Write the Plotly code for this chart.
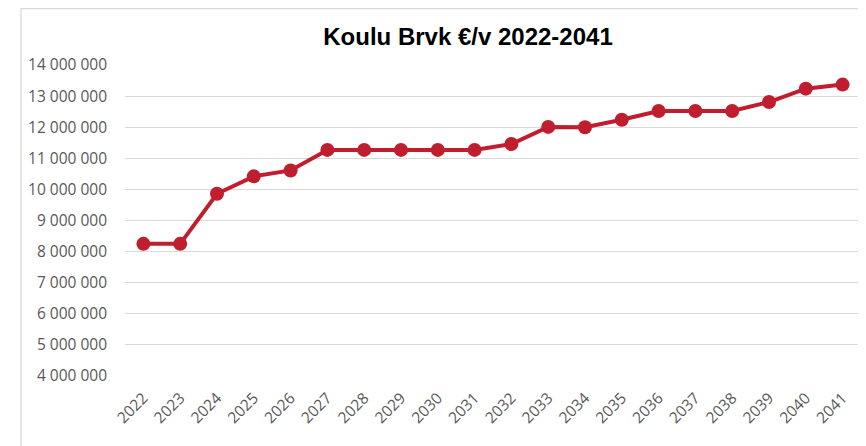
import plotly.graph_objects as go

years = [str(y) for y in range(2022, 2042)]
values = [8250000, 8250000, 9860000, 10420000, 10610000, 11270000, 11270000, 11270000,
          11270000, 11270000, 11460000, 12010000, 12000000, 12240000, 12520000, 12520000,
          12520000, 12810000, 13240000, 13370000]
title_text = "Koulu Brvk €/v 2022-2041"

OFF = 8  # default page body margin
W, H = 866 - OFF, 446 - OFF
L, T = 125 - OFF, 65 - OFF
R = W - (861 - OFF)
B = H - (376 - OFF)
pw, ph = W - L - R, H - T - B

fig = go.Figure()
fig.add_trace(go.Scatter(
    x=years, y=values, mode="lines+markers",
    line=dict(color="#C01E2E", width=4),
    marker=dict(color="#C01E2E", size=14),
    showlegend=False,
))

fig.update_layout(
    width=W, height=H,
    margin=dict(l=L, r=R, t=T, b=B, pad=0, autoexpand=False),
    plot_bgcolor="white", paper_bgcolor="white",
    separators=", ",
    title=dict(
        text="<b>" + title_text + "</b>",
        x=(468 - OFF) / W, xanchor="center",
        y=1 - (37 - OFF) / H, yanchor="middle",
        font=dict(family="Liberation Sans", size=24, color="#000000"),
    ),
    xaxis=dict(
        type="category", range=[-0.5, len(years) - 0.5],
        tickangle=-45, showgrid=False, zeroline=False, showline=False,
        tickfont=dict(family="Open Sans", size=15.5, color="#595959"),
        ticks="", ticklabelstandoff=9, automargin=False,
    ),
    yaxis=dict(
        range=[4000000, 14000000], dtick=1000000, tick0=4000000,
        tickformat=",d", showgrid=True, gridcolor="#D9D9D9", gridwidth=1.3,
        zeroline=False, showline=False, ticks="",
        tickfont=dict(family="Open Sans", size=15.5, color="#595959"),
        ticklabelstandoff=17, automargin=False,
    ),
    shapes=[dict(
        type="rect", xref="paper", yref="paper",
        x0=(21 - 125) / pw, x1=1.2, y0=-0.5, y1=(376 - 0.5 - OFF) / ph,
        line=dict(color="#D9D9D9", width=1.3), fillcolor="rgba(0,0,0,0)",
        layer="below",
    )],
)

fig.write_html("out.html")
